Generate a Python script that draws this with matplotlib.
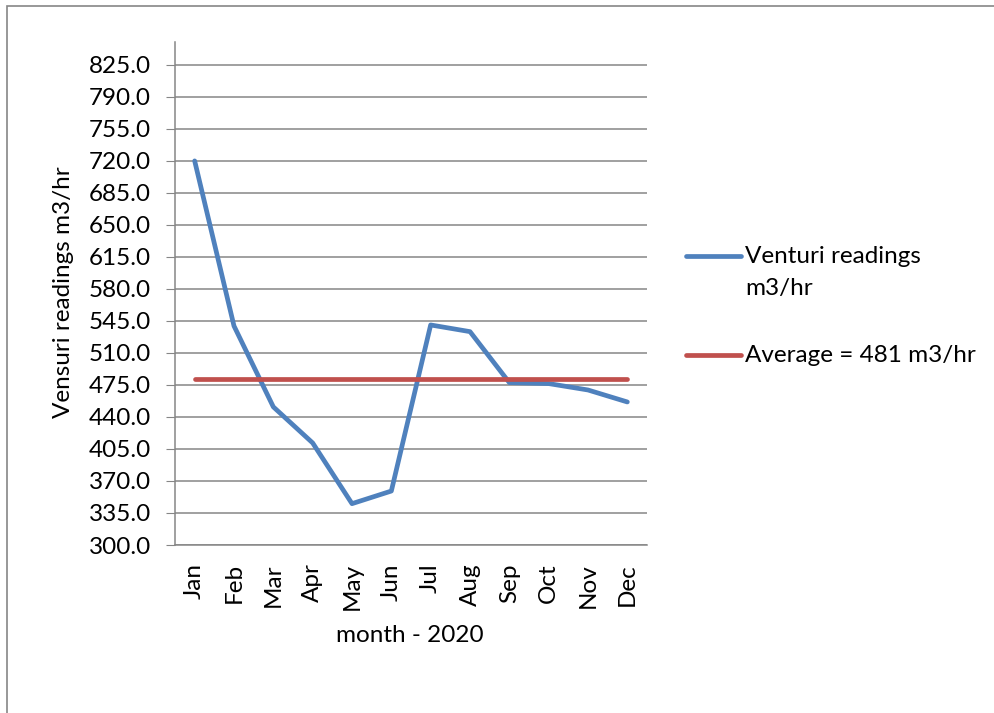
import numpy as np
import matplotlib
matplotlib.use("Agg")
import matplotlib.pyplot as plt
from matplotlib.patches import Rectangle
from matplotlib.lines import Line2D

plt.rcParams['font.family'] = ['Lato', 'DejaVu Sans']

# data
months = ["Jan", "Feb", "Mar", "Apr", "May", "Jun",
          "Jul", "Aug", "Sep", "Oct", "Nov", "Dec"]
venturi = [720.0, 539.5, 451.0, 411.6, 345.2, 359.0,
           540.6, 533.3, 477.6, 476.5, 469.5, 456.4]
average = 481
y_ticks = [300.0 + 35.0 * i for i in range(16)]

blue = '#4F81BD'
red = '#C0504D'
grey = '#868686'
fs = 17.5
W, H = 995, 713

fig = plt.figure(figsize=(W / 100, H / 100), dpi=100)
# chart border (excel frame, cut at the right/bottom)
fig.patches.append(Rectangle((7 / W, -0.05), 1.2, 1 - 6 / H + 0.05,
                             transform=fig.transFigure, fill=False,
                             edgecolor=grey, lw=1.2))

ax = fig.add_axes([175 / W, 1 - 545 / H, (647 - 175) / W, (545 - 42) / H])

x = np.arange(len(months))
ax.plot(x, venturi, color=blue, lw=3.4, solid_joinstyle='round',
        solid_capstyle='round', zorder=3)
ax.plot(x, [average] * len(months), color=red, lw=3.4,
        solid_capstyle='round', zorder=3)

ax.set_xlim(-0.5, len(months) - 0.5)
ax.set_ylim(300, 850)
ax.set_yticks(y_ticks)
ax.set_yticklabels([f"{v:.1f}" for v in y_ticks], fontsize=fs)
ax.set_xticks(x)
ax.set_xticklabels(months, rotation=90, fontsize=fs)
ax.tick_params(axis='x', length=0, pad=13)
ax.tick_params(axis='y', length=6.5, color=grey, pad=11)

ax.grid(True, axis='y', color=grey, lw=1.1)
ax.set_axisbelow(True)
for side in ['top', 'right']:
    ax.spines[side].set_visible(False)
for side in ['left', 'bottom']:
    ax.spines[side].set_color(grey)
    ax.spines[side].set_linewidth(1.1)

ax.set_ylabel("Vensuri readings m3/hr", fontsize=fs, va='center')
ax.yaxis.set_label_coords((63 - 175) / 472, (545 - 292) / 503)
ax.set_xlabel("month - 2020", fontsize=fs, va='center')
ax.xaxis.set_label_coords((410 - 175) / 472, (545 - 635) / 503)

# legend, drawn by hand so the key sits on the first text line
legend_items = [("Venturi readings\nm3/hr", blue, 256),
                (f"Average = {average} m3/hr", red, 355)]
for label, col, ypix in legend_items:
    yf = 1 - ypix / H
    fig.add_artist(Line2D([686 / W, 741 / W], [yf, yf], transform=fig.transFigure,
                          color=col, lw=3.4, solid_capstyle='round'))
    fig.text(745 / W, 1 - (ypix - 10) / H, label, fontsize=fs, va='top',
             ha='left', linespacing=1.65)

fig.savefig("out.png", dpi=100)
